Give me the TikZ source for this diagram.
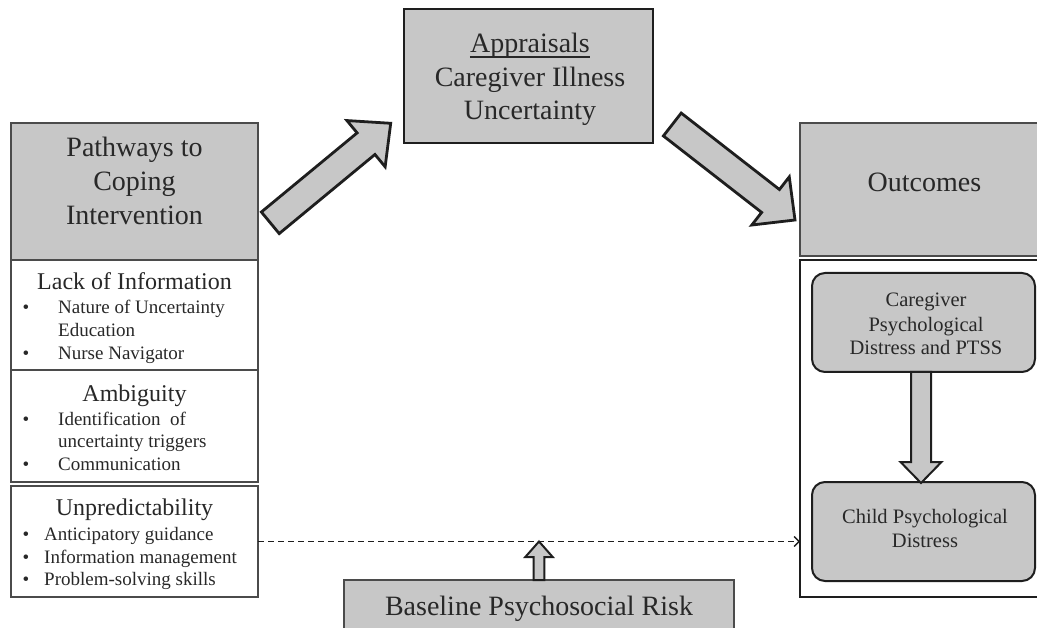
\documentclass[tikz,border=0pt]{standalone}
\usepackage{fontspec}
\setmainfont{Liberation Serif}
\usetikzlibrary{calc,arrows.meta}
\definecolor{boxgray}{RGB}{199,199,199}
\definecolor{tx}{RGB}{40,40,40}
\definecolor{edge}{RGB}{30,30,30}
\definecolor{edgegray}{RGB}{75,75,75}
% tail, head, half shaft width, half head width, head length, style
\newcommand{\blkarrow}[6]{%
  \coordinate (#1hb) at ($(#2)!#5!(#1)$);
  \draw[#6] ($(#1)!#3!90:(#2)$) -- ($(#1hb)!#3!-90:(#1)$) -- ($(#1hb)!#4!-90:(#1)$)
    -- (#2) -- ($(#1hb)!#4!90:(#1)$) -- ($(#1hb)!#3!90:(#1)$) -- ($(#1)!#3!-90:(#2)$) -- cycle;}
\begin{document}
\begin{tikzpicture}[x=1pt,y=-1pt,
  box/.style={draw=edgegray, line width=1.6pt, anchor=north west, inner sep=0pt, outer sep=0pt},
  graybox/.style={box, fill=boxgray},
  darkbox/.style={box, draw=edge, line width=2pt},
  rbox/.style={darkbox, fill=boxgray, rounded corners=13pt},
  bigarrow/.style={fill=boxgray, draw=edge, line width=2.8pt, line join=miter},
  smallarrow/.style={fill=boxgray, draw=edge, line width=2pt, line join=miter},
  conn/.style={draw=edge, line width=1.3pt, dash pattern=on 6pt off 4pt, -{Straight Barb[length=5pt,width=10pt]}},
  txt/.style={anchor=base, inner sep=0pt, text=tx},
  lft/.style={anchor=base west, inner sep=0pt, text=tx},
  big/.style={font=\fontsize{28}{34}\selectfont},
  mid/.style={font=\fontsize{24}{29}\selectfont},
  sml/.style={font=\fontsize{19}{23}\selectfont},
  rb/.style={font=\fontsize{20.5}{24}\selectfont},
]
\clip (0,0) rectangle (1037,628);
\fill[white] (0,0) rectangle (1037,628);

% left column
\node[graybox, minimum width=247pt, minimum height=137pt] (pw) at (11,123) {};
\node[box, minimum width=247pt, minimum height=110pt] (pw1) at (11,260) {};
\node[box, minimum width=247pt, minimum height=112pt] (pw2) at (11,370) {};
\node[box, minimum width=247pt, minimum height=111pt] (pw3) at (11,486) {};

% appraisals
\node[darkbox, fill=boxgray, minimum width=249pt, minimum height=134pt] (ap) at (404,9) {};

% outcomes
\node[graybox, line width=2pt, minimum width=245pt, minimum height=133pt] (oh) at (800,123) {};
\node[darkbox, minimum width=245pt, minimum height=337pt] (ob) at (800,260) {};
\node[rbox, minimum width=223pt, minimum height=99pt] (cg) at (812,273) {};
\node[rbox, minimum width=223pt, minimum height=99pt] (ch) at (812,482) {};

% baseline
\node[graybox, minimum width=390pt, minimum height=70pt] (bs) at (344,580) {};

% texts: left column
\node[txt, big] (t1) at (134.5,156.5) {Pathways to};
\node[txt, big] (t2) at (134.5,190.5) {Coping};
\node[txt, big] (t3) at (134.5,224.5) {Intervention};

\node[txt, mid] (t4) at (134.5,290) {Lack of Information};
\node[txt, sml] (b1) at (26,314) {•};
\node[lft, sml] (t5) at (58,314) {Nature of Uncertainty};
\node[lft, sml] (t6) at (58,337) {Education};
\node[txt, sml] (b2) at (26,360) {•};
\node[lft, sml] (t7) at (58,360) {Nurse Navigator};

\node[txt, mid] (t8) at (134.5,402) {Ambiguity};
\node[txt, sml] (b3) at (26,425) {•};
\node[lft, sml] (t9) at (58,425) {Identification \ of};
\node[lft, sml] (t10) at (58,447) {uncertainty triggers};
\node[txt, sml] (b4) at (26,471) {•};
\node[lft, sml] (t11) at (58,471) {Communication};

\node[txt, mid] (t12) at (134.5,515) {Unpredictability};
\node[txt, sml] (b5) at (26,540) {•};
\node[lft, sml] (t13) at (44,540) {Anticipatory guidance};
\node[txt, sml] (b6) at (26,563) {•};
\node[lft, sml] (t14) at (44,563) {Information management};
\node[txt, sml] (b7) at (26,585) {•};
\node[lft, sml] (t15) at (44,585) {Problem-solving skills};

% appraisals text
\node[txt, big] (t16) at (530,53) {Appraisals};
\draw[tx, line width=1.4pt] ($(t16.base west)+(0,4)$) -- ($(t16.base east)+(0,4)$);
\node[txt, big] (t17) at (530,87) {Caregiver Illness};
\node[txt, big] (t18) at (530,120) {Uncertainty};

% outcomes text
\node[txt, big] (t19) at (924.5,192) {Outcomes};
\node[txt, rb] (t20) at (926,307) {Caregiver};
\node[txt, rb] (t21) at (926,332) {Psychological};
\node[txt, rb] (t22) at (926,355) {Distress and PTSS};
\node[txt, rb] (t23) at (925,523) {Child Psychological};
\node[txt, rb] (t24) at (925,547) {Distress};

% baseline text
\node[txt, big] (t25) at (539,615) {Baseline Psychosocial Risk};

% connectors
\draw[conn] (pw3.east) -- (pw3.east -| ob.west);

\coordinate (a1t) at (270.3,222.8);
\coordinate (a1h) at (390.7,123.3);
\blkarrow{a1t}{a1h}{14pt}{30pt}{32pt}{bigarrow}

\coordinate (a2t) at (672.3,124.5);
\coordinate (a2h) at (795,220);
\blkarrow{a2t}{a2h}{14.5pt}{30.5pt}{31pt}{bigarrow}

\coordinate (a3t) at ($(cg.south)+(-2.5,0)$);
\coordinate (a3h) at ($(ch.north)+(-2.5,1)$);
\blkarrow{a3t}{a3h}{10pt}{20.5pt}{21pt}{smallarrow}

\coordinate (a4t) at (bs.north);
\coordinate (a4h) at (pw3.east -| bs.north);
\blkarrow{a4t}{a4h}{5.3pt}{13.7pt}{15.5pt}{smallarrow}
\end{tikzpicture}
\end{document}
